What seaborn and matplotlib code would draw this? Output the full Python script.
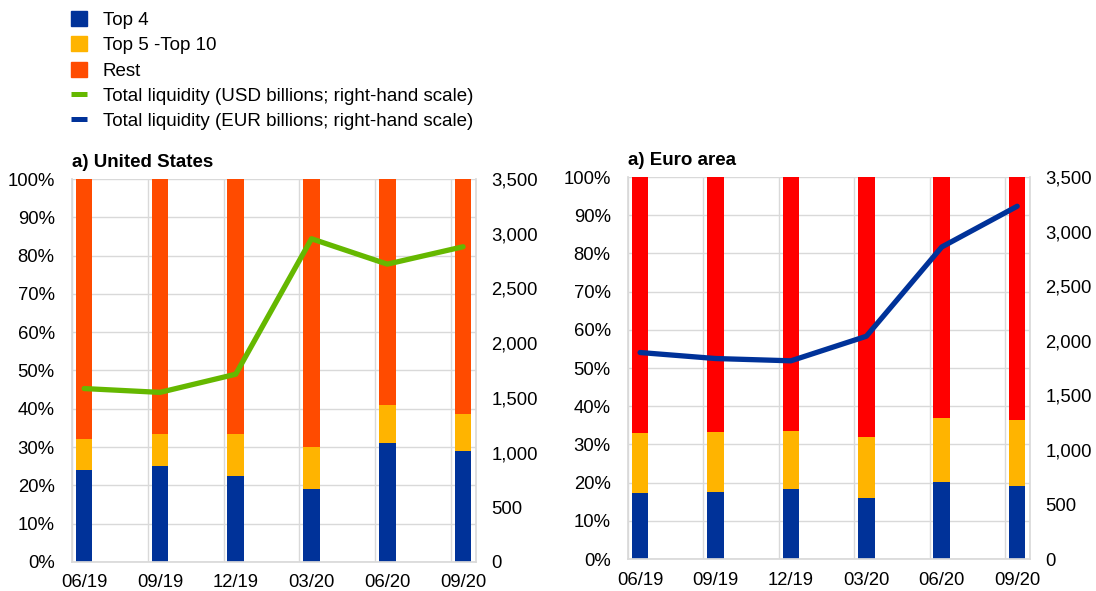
import numpy as np
import pandas as pd
import matplotlib
matplotlib.use("Agg")
import matplotlib.pyplot as plt
from matplotlib.patches import Patch
from matplotlib.lines import Line2D
from matplotlib.ticker import FuncFormatter
import seaborn as sns

# data
dates = ["06/19", "09/19", "12/19", "03/20", "06/20", "09/20"]

us_top4 = [24.0, 25.0, 22.5, 19.0, 31.0, 29.0]
us_top5_10 = [8.0, 8.5, 10.8, 11.0, 10.0, 9.7]
us_rest = [100 - a - b for a, b in zip(us_top4, us_top5_10)]
us_liquidity = [1585, 1550, 1716, 2954, 2722, 2881]

ea_top4 = [17.3, 17.6, 18.2, 15.9, 20.2, 19.2]
ea_top5_10 = [15.6, 15.7, 15.4, 16.1, 16.8, 17.2]
ea_rest = [100 - a - b for a, b in zip(ea_top4, ea_top5_10)]
ea_liquidity = [1892, 1837, 1816, 2041, 2859, 3232]

BLUE = "#003299"
YELLOW = "#FFB400"
ORANGE = "#FF4B00"
RED = "#FF0000"
GREEN = "#65B800"
GRID = "#D9D9D9"
FS = 13.3

sns.set_theme(style="white")
plt.rcParams["font.family"] = ["Liberation Sans", "DejaVu Sans"]
plt.rcParams["text.color"] = "black"

fig = plt.figure(figsize=(10.96, 5.91), dpi=100)


def panel(pos, title, top4, top5_10, rest, liq, rest_color, line_color):
    ax = fig.add_axes(pos)
    df = pd.DataFrame({"date": dates, "top4": top4,
                       "cum2": np.add(top4, top5_10),
                       "cum3": np.add(np.add(top4, top5_10), rest)})
    # stacked by overlaying cumulative totals
    for col, c in [("cum3", rest_color), ("cum2", YELLOW), ("top4", BLUE)]:
        sns.barplot(data=df, x="date", y=col, color=c, width=0.22,
                    linewidth=0, saturation=1, ax=ax, errorbar=None)
    ax.set_xlim(-0.16, 5.17)
    ax.set_ylim(0, 100)
    ax.set_yticks(np.arange(0, 101, 10))
    ax.yaxis.set_major_formatter(FuncFormatter(lambda v, p: f"{v:.0f}%"))
    ax.set_xlabel("")
    ax.set_ylabel("")
    ax.set_axisbelow(True)
    ax.grid(axis="y", color=GRID, linewidth=1)
    for i in range(len(dates)):
        ax.axvline(i - 0.16, color=GRID, linewidth=1, zorder=0)
    for s in ["left", "bottom", "right"]:
        ax.spines[s].set_color(GRID)
    ax.spines["top"].set_visible(False)
    ax.tick_params(axis="both", length=0, labelsize=FS, colors="black")
    ax.tick_params(axis="x", pad=9)
    ax.tick_params(axis="y", pad=12.5)
    ax.set_title(title, loc="left", fontsize=13.5, fontweight="bold",
                 color="black", pad=9)

    ax2 = ax.twinx()
    sns.lineplot(x=np.arange(len(dates)), y=liq, color=line_color,
                 linewidth=3.8, ax=ax2)
    ax2.set_ylim(0, 3500)
    ax2.set_yticks(np.arange(0, 3501, 500))
    ax2.yaxis.set_major_formatter(FuncFormatter(lambda v, p: f"{v:,.0f}"))
    ax2.set_xlim(-0.16, 5.17)
    ax2.tick_params(axis="y", length=0, labelsize=FS, colors="black", pad=11)
    for s in ax2.spines.values():
        s.set_visible(False)
    return ax, ax2


panel([0.0657, 0.0491, 0.3686, 0.648], "a) United States",
      us_top4, us_top5_10, us_rest, us_liquidity, ORANGE, GREEN)
panel([0.573, 0.0541, 0.3668, 0.6464], "a) Euro area",
      ea_top4, ea_top5_10, ea_rest, ea_liquidity, RED, BLUE)

handles = [
    Patch(color=BLUE, label="Top 4"),
    Patch(color=YELLOW, label="Top 5 -Top 10"),
    Patch(color=ORANGE, label="Rest"),
    Line2D([], [], color=GREEN, linewidth=3.6, solid_capstyle="butt",
           label="Total liquidity (USD billions; right-hand scale)"),
    Line2D([], [], color=BLUE, linewidth=3.6, solid_capstyle="butt",
           label="Total liquidity (EUR billions; right-hand scale)"),
]
fig.legend(handles=handles, loc="upper left", bbox_to_anchor=(0.0645, 0.982),
           frameon=False, fontsize=13.5, handlelength=0.85, handleheight=0.85,
           handletextpad=0.85, labelspacing=0.4, borderaxespad=0, borderpad=0,
           labelcolor="black")

fig.savefig("out.png", dpi=100, facecolor="white")
